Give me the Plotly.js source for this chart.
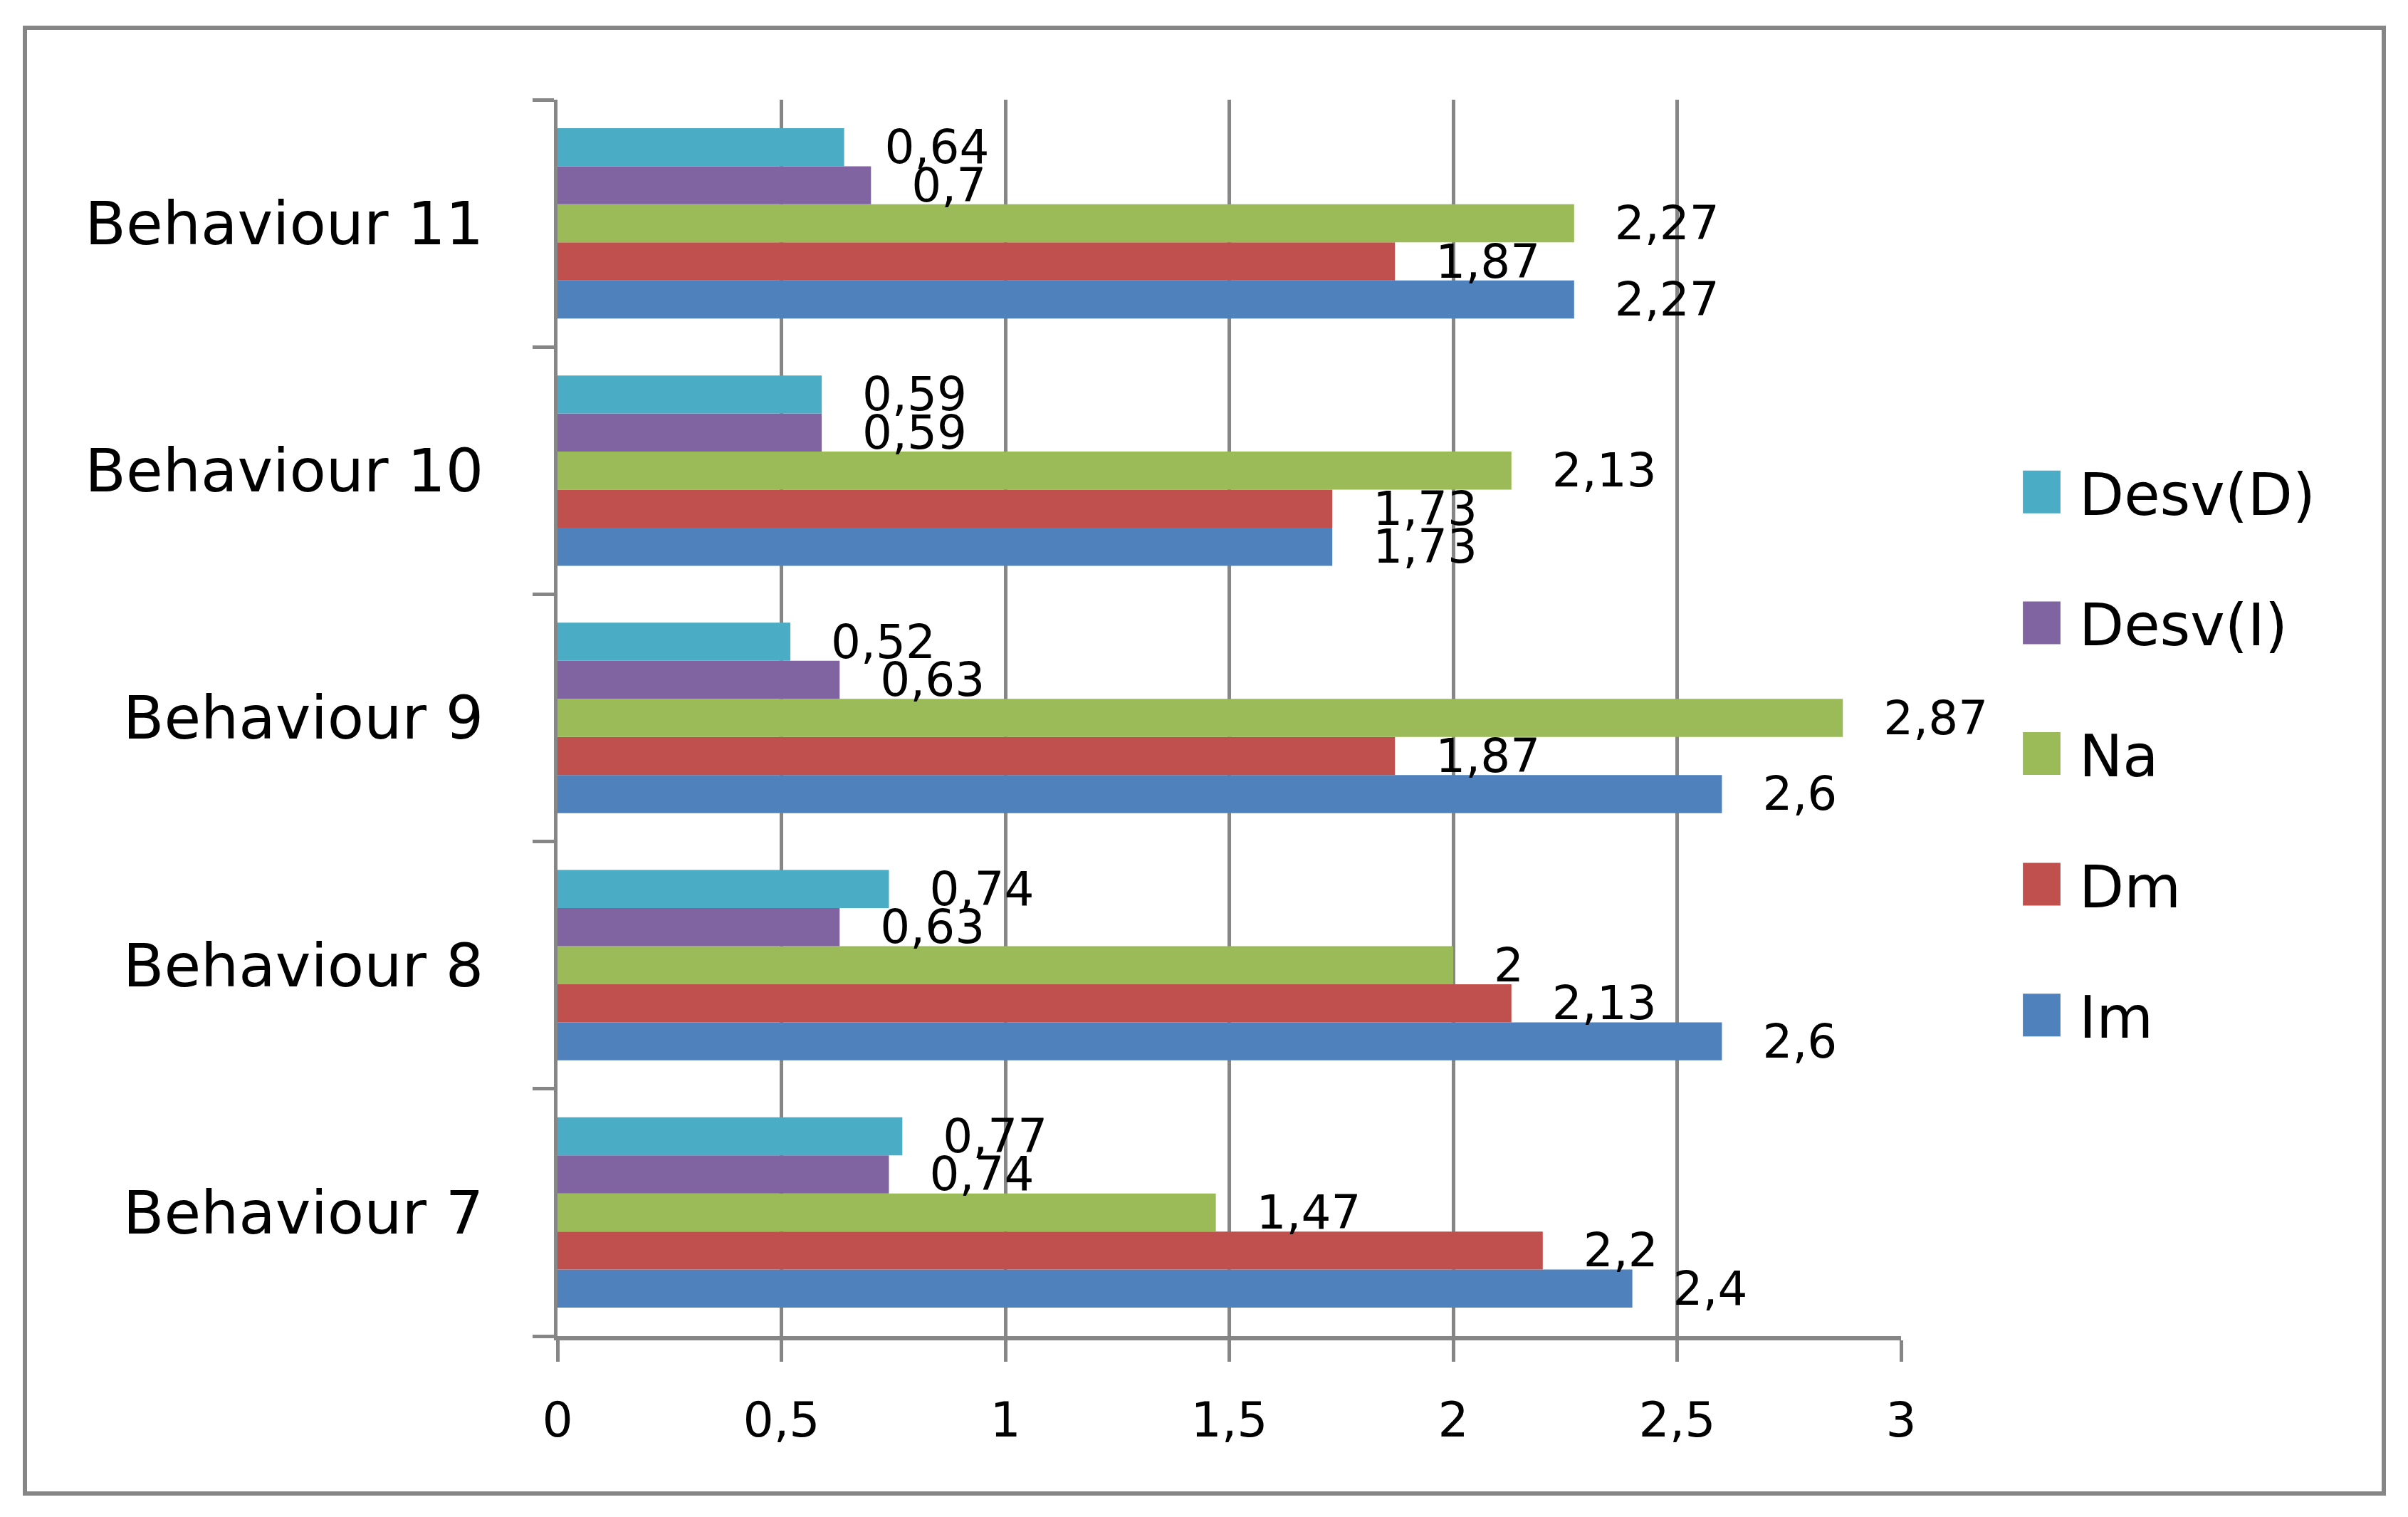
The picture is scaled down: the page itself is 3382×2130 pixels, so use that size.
<!DOCTYPE html>
<html><head><meta charset="utf-8">
<script src="https://cdn.plot.ly/plotly-3.0.1.min.js"></script>
<style>html,body{margin:0;padding:0;background:#fff;}</style>
</head><body>
<div id="chart" style="width:3382px;height:2130px;"></div>
<script>
// ---- data ----
const categories = ['Behaviour 7', 'Behaviour 8', 'Behaviour 9', 'Behaviour 10', 'Behaviour 11'];
const seriesNames = ['Im', 'Dm', 'Na', 'Desv(I)', 'Desv(D)'];
const im    = [2.4, 2.6, 2.6, 1.73, 2.27];
const dm    = [2.2, 2.13, 1.87, 1.73, 1.87];
const na    = [1.47, 2, 2.87, 2.13, 2.27];
const desvI = [0.74, 0.63, 0.63, 0.59, 0.7];
const desvD = [0.77, 0.74, 0.52, 0.59, 0.64];
const xTickVals = [0, 0.5, 1, 1.5, 2, 2.5, 3];
const xTickText = ['0', '0,5', '1', '1,5', '2', '2,5', '3'];

// ---- styles ----
const colors = ['#4F81BD', '#C0504D', '#9BBB59', '#8064A2', '#4BACC6'];
const FONT = 'DejaVu Sans, Verdana, sans-serif';
const GRAY = '#868686';
const W = 3382, H = 2130;
const L = 783, R = 2670, T = 140, B = 1876;
const pw = R - L, ph = B - T;
const px = v => (v - L) / pw;
const py = v => (B - v) / ph;

const values = [im, dm, na, desvI, desvD];
const fmt = v => '\u2002\u00a0' + String(v).replace('.', ',');

const traces = values.map((vals, i) => ({
  type: 'bar',
  orientation: 'h',
  name: seriesNames[i],
  legendgroup: seriesNames[i],
  legendrank: values.length - i,
  x: vals,
  y: categories,
  text: vals.map(fmt),
  textposition: 'outside',
  cliponaxis: false,
  constraintext: 'none',
  textfont: {family: FONT, size: 66, color: '#000'},
  marker: {color: colors[i], line: {width: 0}},
  hoverinfo: 'x+name'
}));

const layout = {
  width: W, height: H,
  paper_bgcolor: '#fff', plot_bgcolor: '#fff',
  margin: {l: L, r: W - R, t: T, b: H - B, pad: 0},
  font: {family: FONT, color: '#000'},
  barmode: 'group',
  bargap: 0.23,
  bargroupgap: 0,
  showlegend: true,
  legend: {
    x: px(2833), xanchor: 'left',
    y: py(631), yanchor: 'top',
    traceorder: 'grouped',
    tracegroupgap: 74,
    itemwidth: 77,
    font: {family: FONT, size: 82, color: '#000'},
    bgcolor: 'rgba(0,0,0,0)'
  },
  xaxis: {
    range: [0, 3],
    tickvals: xTickVals, ticktext: xTickText,
    showgrid: true, gridcolor: GRAY, gridwidth: 5,
    zeroline: false,
    showline: true, linecolor: GRAY, linewidth: 6,
    ticks: 'outside', ticklen: 30, tickwidth: 5, tickcolor: GRAY,
    tickfont: {family: FONT, size: 68, color: '#000'},
    ticklabelstandoff: 23,
    fixedrange: true
  },
  yaxis: {
    type: 'category',
    categoryorder: 'array', categoryarray: categories,
    tickson: 'boundaries',
    showgrid: false, zeroline: false,
    showline: true, linecolor: GRAY, linewidth: 5,
    ticks: 'outside', ticklen: 30, tickwidth: 5, tickcolor: GRAY,
    tickfont: {family: FONT, size: 84, color: '#000'},
    ticklabelstandoff: 82,
    fixedrange: true
  },
  shapes: [{
    type: 'rect', xref: 'paper', yref: 'paper',
    x0: px(35), x1: px(3348), y0: py(2097), y1: py(39),
    line: {color: GRAY, width: 6}, fillcolor: 'rgba(0,0,0,0)', layer: 'below'
  }]
};

Plotly.newPlot('chart', traces, layout, {displayModeBar: false, staticPlot: true}).then(gd => {
  gd.querySelectorAll('.legend .legendpoints path').forEach(p => {
    const t = p.getAttribute('transform') || '';
    p.setAttribute('transform', t + ' translate(-9,0) scale(4.4,5)');
  });
});
</script>
</body></html>
